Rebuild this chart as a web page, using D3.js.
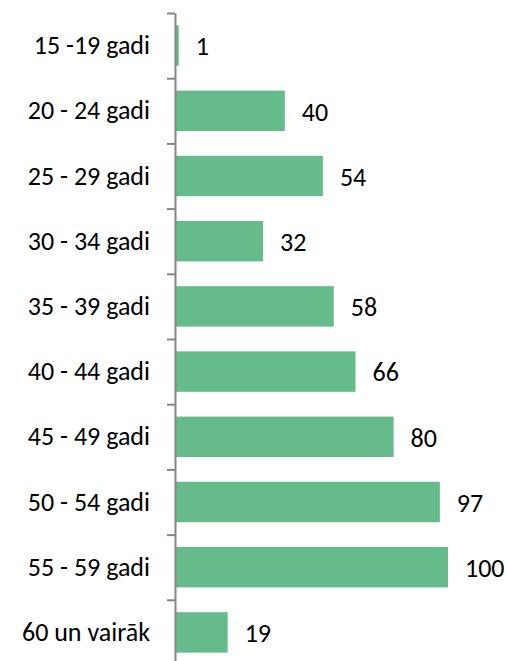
<!DOCTYPE html>
<html>
<head>
<meta charset="utf-8">
<script src="https://cdn.jsdelivr.net/npm/d3@7"></script>
<style>
  body { margin: 0; background: #fff; }
  text { font-family: Carlito, "Liberation Sans", Arial, sans-serif; fill: #000; }
</style>
</head>
<body>
<div id="chart"></div>
<script>
// Data
const categories = ["15 -19 gadi", "20 - 24 gadi", "25 - 29 gadi", "30 - 34 gadi", "35 - 39 gadi",
                    "40 - 44 gadi", "45 - 49 gadi", "50 - 54 gadi", "55 - 59 gadi", "60 un vairāk"];
const values = [1, 40, 54, 32, 58, 66, 80, 97, 100, 19];

const width = 507, height = 661;
const axisX = 175;

const svg = d3.select("#chart")
    .append("svg")
    .attr("width", width)
    .attr("height", height);

// Scales
const y = d3.scaleBand().domain(categories).range([13, 665]);
const yIdx = d3.scaleLinear().domain([0, categories.length]).range([13, 665]);
const x = d3.scaleLinear().domain([0, 100]).range([176, 448]);

// Bars
const barH = y.bandwidth() * 0.62;
const barOff = (y.bandwidth() - barH) / 2;

svg.selectAll(".bar")
    .data(values)
    .enter()
    .append("rect")
    .attr("class", "bar")
    .attr("x", x(0))
    .attr("y", (d, i) => y(categories[i]) + barOff)
    .attr("width", d => x(d) - x(0))
    .attr("height", barH)
    .style("fill", "#65bb8a");

// Value labels
svg.selectAll(".val")
    .data(values)
    .enter()
    .append("text")
    .attr("class", "val")
    .attr("x", d => x(d) + 17)
    .attr("y", (d, i) => y(categories[i]) + y.bandwidth() / 2)
    .attr("dy", "0.38em")
    .style("font-size", "26px")
    .text(d => d);

// Category labels
svg.selectAll(".cat")
    .data(categories)
    .enter()
    .append("text")
    .attr("class", "cat")
    .attr("text-anchor", "end")
    .attr("x", 150)
    .attr("y", d => y(d) + y.bandwidth() / 2)
    .attr("dy", "0.33em")
    .style("font-size", "26px")
    .text(d => d);

// Axis with ticks on band boundaries
const axis = svg.append("g")
    .attr("transform", `translate(${axisX},0)`)
    .call(d3.axisLeft(yIdx)
        .tickValues(d3.range(0, categories.length + 1))
        .tickFormat("")
        .tickSizeInner(8)
        .tickSizeOuter(0));
axis.select(".domain").attr("stroke", "#868686").attr("stroke-width", 2);
axis.selectAll(".tick line").attr("stroke", "#868686").attr("stroke-width", 2);
</script>
</body>
</html>
